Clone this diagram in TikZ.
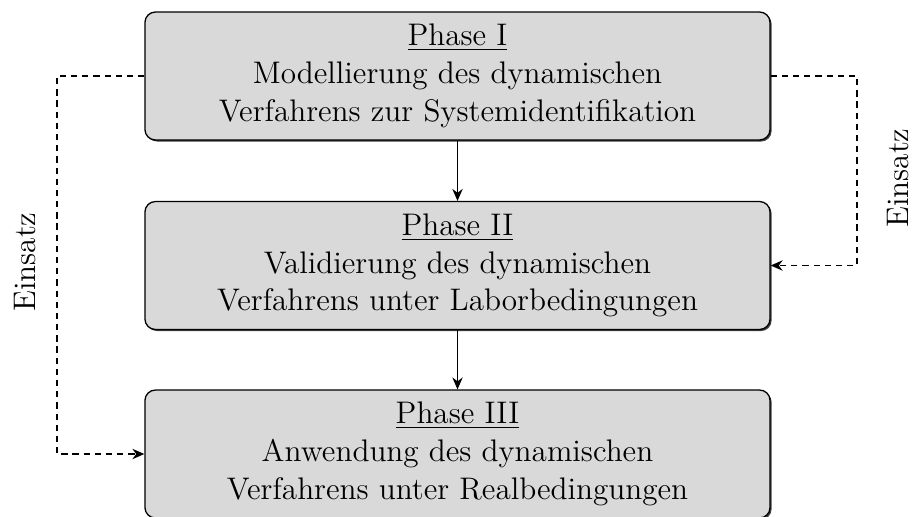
\documentclass[tikz,border=0pt]{standalone}
\usetikzlibrary{arrows.meta,shadows}

\tikzset{
  phasebox/.style={
    draw=black, line width=0.5pt, rounded corners=4pt,
    fill=black!15,
    drop shadow={shadow xshift=0.6pt, shadow yshift=-0.6pt, fill=black!75, opacity=1},
    minimum width=240.4pt, minimum height=49.2pt,
    align=center, inner sep=0pt
  },
  flow/.style={-{Stealth[length=4.6pt,width=4pt]}, line width=0.4pt},
  usage/.style={flow, dash pattern=on 2.4pt off 1.9pt},
  usagelabel/.style={rotate=90}
}

\begin{document}
\begin{tikzpicture}[x=0.3846pt, y=-0.3846pt,
  font=\fontsize{12pt}{14.5pt}\selectfont]
  \useasboundingbox (0,0) rectangle (912,516);

  % the three phases
  \node[phasebox] (p1) at (457.5,76)
    {\underline{Phase I}\\Modellierung des dynamischen\\Verfahrens zur Systemidentifikation};
  \node[phasebox] (p2) at (457.5,265.5)
    {\underline{Phase II}\\Validierung des dynamischen\\Verfahrens unter Laborbedingungen};
  \node[phasebox] (p3) at (457.5,454)
    {\underline{Phase III}\\Anwendung des dynamischen\\Verfahrens unter Realbedingungen};

  % main sequence
  \draw[flow] (p1) -- (p2);
  \draw[flow] (p2) -- (p3);

  % feedback paths
  \coordinate (lx) at (57,0);
  \coordinate (rx) at (857,0);
  \draw[usage] (p1.west) -- (p1.west -| lx) -- (p3.west -| lx) -- (p3.west);
  \draw[usage] (p1.east) -- (p1.east -| rx) -- (p2.east -| rx) -- (p2.east);

  % labels
  \node[usagelabel] (l1) at (25,262) {Einsatz};
  \node[usagelabel] (l2) at (898,178) {Einsatz};
\end{tikzpicture}
\end{document}
